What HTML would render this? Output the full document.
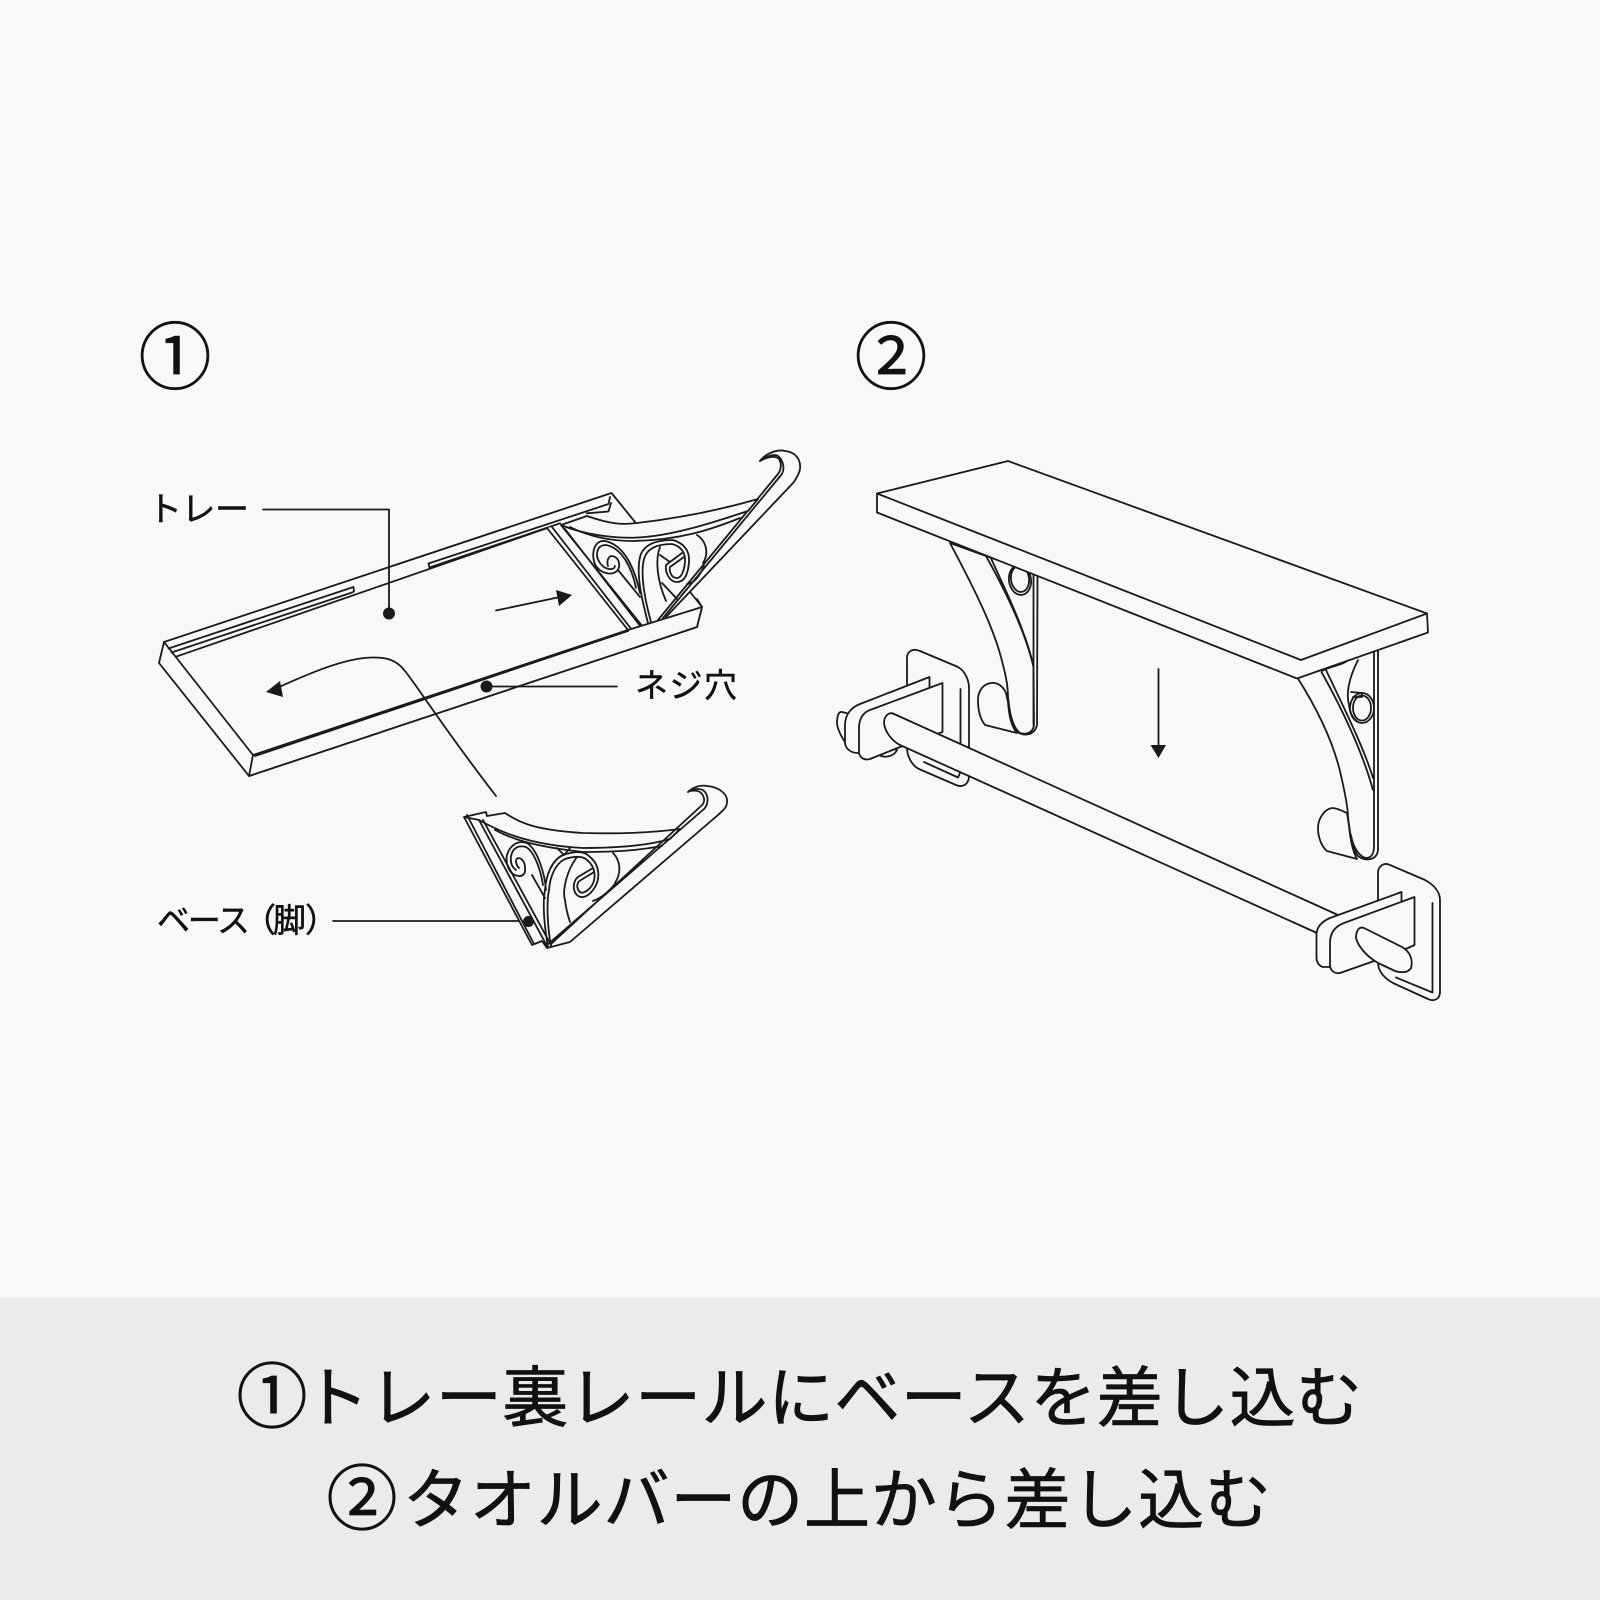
<!DOCTYPE html>
<html lang="ja"><head><meta charset="utf-8"><style>
html,body{margin:0;padding:0;background:#f8f8f8;width:1600px;height:1600px;overflow:hidden}
svg{display:block}
text{font-family:"Liberation Sans","Noto Sans CJK JP",sans-serif;fill:#111}
.t{stroke:#111;stroke-width:.5}
.big{stroke:#111;stroke-width:.8}
.l{fill:none;stroke:#1a1a1a;stroke-width:1.8;stroke-linejoin:round;stroke-linecap:round}
.f{fill:#f8f8f8;stroke:#1a1a1a;stroke-width:1.8;stroke-linejoin:round}
.n{fill:#f8f8f8;stroke:none}
.k{fill:#1a1a1a;stroke:none}
</style></head><body>
<svg width="1600" height="1600" viewBox="0 0 1600 1600" xmlns="http://www.w3.org/2000/svg">
<rect width="1600" height="1600" fill="#f8f8f8"/>
<rect y="1298" width="1600" height="302" fill="#ebebeb"/>

<!-- step numbers -->
<text class="t" x="175" y="383" font-size="73" text-anchor="middle">①</text>
<text class="t" x="891" y="383" font-size="73" text-anchor="middle">②</text>

<!-- labels -->
<text class="t" x="148" y="521" font-size="34" textLength="101">トレー</text>
<text class="t" x="635" y="697" font-size="33" textLength="102">ネジ穴</text>
<text class="t" x="157" y="932" font-size="33" textLength="93">ベース</text>
<text class="t" x="243" y="932" font-size="33">（</text>
<text class="t" x="273" y="932" font-size="33">脚</text>
<text class="t" x="305" y="932" font-size="33">）</text>

<!-- TRAY -->
<path class="f" d="M164,642 L611.5,493 L635,522 L702,607 L697,627 L249,776 L159,663 Z"/>
<path class="l" d="M164,642 L253,755 M168.5,648.5 L353.5,587 L354,591.5 L352,592.5 L171.5,652.5 M176,656.7 L546.7,528.3 M428.5,563.5 L608.5,504 L610,497 M428.5,563.5 L429.5,567.5 L560,523.3 M586.7,513.3 L608.5,511.5 L611,503"/>

<!-- leader and arrow on tray -->
<path class="l" d="M263,509.5 H389 V613"/>
<circle class="k" cx="389" cy="613.5" r="6"/>
<path class="l" d="M496,610.5 L560,597"/>
<path class="k" d="M572,595 L556,590 L559,606 Z"/>

<!-- BRACKET 1 -->
<path class="n" d="M561,525 L587,516 C610,524 622,525 637,523 C680,518 720,510 758,499 L782,474 L660,620 L630,630 L547,528 Z"/>
<path class="n" d="M760,461 C766,453 778,449 785,451 C796,452 801,460 800,469 C799,475 796,478 794,482 L666,617 L657,620 L778,474 C781,470 782,464 779,459 C776,456 770,456 760,461 Z"/>
<path class="l" d="M760,461 C766,453 778,449 785,451 C796,452 801,460 800,469 C799,475 796,478 794,482 L666,617"/>
<path class="l" d="M760,461 C768,455 775,454 778,456 C783,460 785,468 782,474 L663,618 M762,460 C770,456 776,456 779,459 C782,464 781,470 778,474 L658,620"/>
<path class="f" d="M561,525 L587,516 C610,524 622,525 637,523 C680,518 720,510 758,499 L748,511 C720,520 680,534 645,537 C625,539 590,537 561,525 Z"/>
<path class="l" d="M570,527 C590,537 612,541 633,541 C680,540 710,530 740,518"/>
<path class="l" d="M547,528 L628,630 M552,527 L632,630 M561,525 L643,627 M565,529 L641,627"/>
<path class="l" d="M640,593 C635,570 625,545 605,541 C592,540 591,558 596,566 C603,576 617,576 619,567 C620,560 616,556 611,556 C607,558 607,563 608,566 M636,588 C632,568 622,548 606,545 C596,545 595,556 600,563 C605,570 614,571 615,566"/>
<path class="l" d="M618,570 L640,597"/>
<path class="l" d="M648,623 C642,600 636,575 640,557 C643,545 655,540 673,540 C683,543 690,550 689,562 C688,575 684,582 677,582 C669,582 665,572 666,565 L682,553"/>
<path class="l" d="M651,622 C645,600 640,575 644,559 C647,548 658,544 672,544 C680,546 686,552 685,562 C684,572 681,578 677,578 C671,578 669,571 670,567 L684,557"/>
<path class="l" d="M660,547 C655,560 657,580 666,601 M660,555 L670,562 M662,583 L678,600 M697,535 C705,540 710,552 703,563 M687,584 C695,583 700,575 704,566"/>

<!-- tray front (over bracket) -->
<path class="f" d="M628,630 L686,612 L702,607 L697,627 L249,776 L253,755 Z"/>
<path class="l" d="M255,756 L628,631"/>
<path class="l" d="M697,599 L702,607"/>

<!-- curved arrow over the tray -->
<path class="l" d="M277,688 C310,673 345,658 372,657.5 C390,657 398,662 405,671 C420,690 445,730 496,796"/>
<path class="k" d="M266,692 L280,681 L283,697 Z"/>

<!-- hole -->
<path class="l" d="M486,686.5 H617"/>
<circle class="k" cx="486.5" cy="686.5" r="6"/>

<!-- leader base -->
<path class="l" d="M333,921 H528"/>

<!-- BRACKET 2 -->
<path class="n" d="M464,817 L486,812 L487,816 L505,813 C520,823 535,830 583,833 C620,834 650,833 680,829 L705,806 C708,800 706,794 702,791 C697,789 693,790 688,792 C694,786 702,785 707,786 C720,787 728,795 727,802 C727,808 722,811 718,815 L570,942 L547,948 L542,941 L532,945 Z"/>
<path class="l" d="M479,820 L464,817 L486,812 L487,816 L505,813 C520,823 535,830 583,833 C620,834 650,833 680,829 M688,792 C694,786 702,785 707,786 C720,787 728,795 727,802 C727,808 722,811 718,815 L570,942 L547,948 L542,941 L532,945 L464,817"/>
<path class="l" d="M467,815 L534,944 M479,820 L547,946 M483,820 L551,945"/>
<path class="l" d="M688,792 C694,788 702,788 705,792 C709,797 708,805 704,809 L547,945 M690,791 C696,790 700,791 702,794 C705,798 705,803 701,806 L551,944"/>
<path class="l" d="M479,820 C495,829 525,845 583,848 C620,848 650,845 670,839 L680,829 M495,830 C510,838 530,846 583,852 C620,852 640,850 662,846"/>
<path class="l" d="M546,890 C545,875 538,850 527,843 C518,840 510,845 507,855 C505,865 510,872 513,874 C520,878 526,876 525,868 C525,862 522,858 518,858 C514,860 517,866 519,868 M543,885 C541,872 535,852 526,847 C518,845 513,848 511,856 C510,864 513,868 516,870"/>
<path class="l" d="M532,875 L545,898"/>
<path class="l" d="M548,947 C545,930 542,905 545,890 C546,875 552,860 563,855 C575,851 585,851 590,857 C600,865 601,880 593,890 C587,898 580,899 576,894 C572,888 574,880 578,877 L593,868"/>
<path class="l" d="M551,946 C548,930 546,905 549,890 C550,877 555,864 565,859 C575,856 583,856 587,860 C596,867 597,880 590,888 C585,893 581,894 579,891 C576,887 577,882 581,880 L594,872"/>
<path class="l" d="M577,857 C567,870 562,890 565,900 C566,910 568,916 570,922 M613,853 C620,860 622,872 615,883 M593,901 C602,898 610,890 615,884"/>
<path class="l" d="M557,848 L563,854 M570,848 L564,855"/>
<circle class="k" cx="528.5" cy="921.5" r="5.5"/>

<!-- SHELF -->
<!-- left bracket -->
<path class="f" d="M950,543 C975,590 995,630 1003,665 C1007,680 1008,690 1008,697 C1010,715 1012,725 1016,731 C1022,736 1034,737 1037,725 L1037.5,573 L986,556 Z"/>
<path class="l" d="M986,556 C1005,590 1025,630 1033.5,667 M990,556 C1003,585 1023,625 1032,660 M1033.5,570 V725"/>
<ellipse class="l" cx="1020" cy="580" rx="11" ry="15" transform="rotate(-8 1020 580)"/>
<ellipse class="l" cx="1020" cy="579" rx="9" ry="13" transform="rotate(-8 1020 579)"/>
<path class="l" d="M1008,697 C1009,712 1013,728 1020,733 C1026,735 1033,733 1034,725 M1033.5,667 L1034,725"/>
<path class="f" d="M1006,693 C1003,686 997,682 991,683 C984,684 978,690 978,700 C978,712 981,720 985,725 L1017,733 C1011,726 1009,715 1008,702 Z"/>

<!-- right bracket -->
<path class="f" d="M1297,677 C1318,710 1335,745 1342,780 C1346,798 1348,810 1348,817 C1350,835 1353,850 1358,856 C1366,862 1377,860 1378,850 L1378,645 L1322,668 Z"/>
<path class="l" d="M1321.5,672 C1340,705 1362,750 1373,790 M1326,670 C1340,700 1363,745 1373,778 M1374,651 V846"/>
<path class="l" d="M1358,660 C1352,672 1345,690 1349,705 C1350,712 1352,718 1358,722"/>
<ellipse class="l" cx="1362" cy="708" rx="12" ry="15"/>
<ellipse class="l" cx="1362" cy="708" rx="9" ry="12.5"/>
<path class="l" d="M1351,692 L1362,693 V697 H1353 M1322,671 C1330,666 1340,666 1347,661"/>
<path class="l" d="M1351,835 C1353,848 1360,857 1366,858 C1371,858 1374,854 1374,846"/>
<path class="f" d="M1347,813 C1344,812 1338,808 1332,808 C1325,809 1318,818 1318,828 C1318,838 1322,847 1327,851 L1357,859 C1352,850 1350,836 1349,826 Z"/>

<!-- board -->
<path class="f" d="M877,512.5 V493.5 L1008,461 L1427,613.5 L1428,632.5 L1297,678.5 Z"/>
<path class="l" d="M877,493.5 L1301,660 L1427,613.5"/>

<!-- big arrow -->
<path class="l" d="M1158.5,669 V746"/>
<path class="k" d="M1150.5,745 H1166 L1158.5,758 Z"/>

<!-- TOWEL BAR left -->
<path class="f" d="M907,690 V658 C907,651 913,648 920,651 L958,667 C965,671 969,680 969,688 V776 C969,784 963,788 956,785 L919,769 C911,765 907,755 907,748 Z"/>
<path class="l" d="M960.5,689 V745 M924,762 L958,777.5 L960.5,772"/>
<path class="f" d="M842,712 C838,711 837,718 837,724 C838,730 842,738 847,745 L862,745 L858,716 Z"/>
<path class="f" d="M878,754 C882,758 893,758 897,750 L885,745 Z"/>
<path class="n" d="M929.5,677 V700 L880,740 L858,753 C850,753 845,748 845,742 V725 C845,714 852,707 860,704 Z"/>
<path class="l" d="M929.5,690 V677 L860,704 C852,707 845,714 845,725 V742 C845,748 850,753 858,753"/>
<path class="f" d="M942.5,683 V732 L900,747 L870,759 C863,761 859,756 859,752 V728 C859,718 864,712 870,710 Z"/>
<!-- bar -->
<path class="n" d="M1338,915 L893,713.5 C888,712 884,717 884,723 C885,732 892,741 900,745 L1317,933 Z"/>
<path class="l" d="M1338,915 L893,713.5 C888,712 884,717 884,723 C885,732 892,741 900,745 L1317,933"/>

<!-- TOWEL BAR right -->
<path class="f" d="M1378,905 V873 C1378,866 1384,862 1390,865 L1425,880 C1434,885 1440,892 1440,900 V992 C1440,999 1434,1002 1428,999 L1393,983 C1384,978 1378,971 1378,962 Z"/>
<path class="l" d="M1432.5,903 V992.5 L1396,977.5"/>
<path class="n" d="M1401.5,892 V905 L1340,960 L1323,967 C1319,966 1316.5,962 1316.5,958 V934 C1317,926 1323,921 1330,918 Z"/>
<path class="l" d="M1401.5,905 V892 L1330,918 C1323,921 1317,926 1316.5,934 V958 C1316.5,962 1319,966 1323,967 L1330,967"/>
<path class="f" d="M1414.5,897 V945 L1408,948 L1377,960 L1340,973 C1334,974 1330,970 1330,965 V943 C1330,932 1336,926 1344,923 Z"/>
<path class="f" d="M1364,928 L1402,947 C1411,952 1413,961 1411,968 C1408,973 1402,973 1395,971 L1378,963 C1366,956 1358,946 1356,938 C1356,931 1359,926 1364,928 Z"/>

<!-- footer text -->
<text class="big" x="272" y="1422" font-size="71" text-anchor="middle">①</text>
<text class="big" x="303" y="1421" font-size="66" textLength="1059">トレー裏レールにベースを差し込む</text>
<text class="big" x="362" y="1524" font-size="71" text-anchor="middle">②</text>
<text class="big" x="403" y="1523" font-size="66" textLength="868">タオルバーの上から差し込む</text>
</svg>
</body></html>
